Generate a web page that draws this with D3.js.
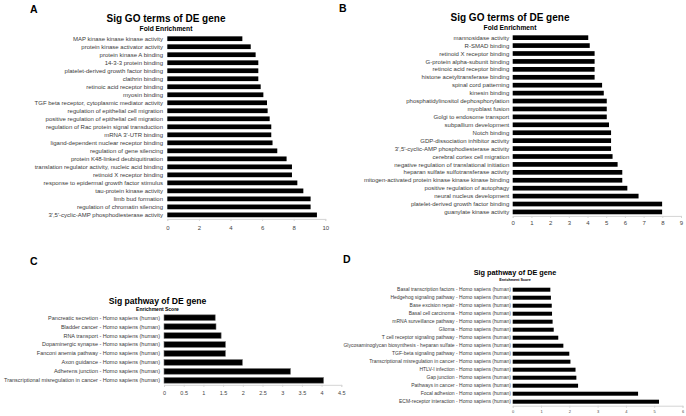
<!DOCTYPE html>
<html>
<head>
<meta charset="utf-8">
<script src="https://cdn.jsdelivr.net/npm/d3@7"></script>
<style>
  body { margin: 0; background: #fff; }
  svg { display: block; font-family: "Liberation Sans", Arial, sans-serif; }
</style>
</head>
<body>
<svg id="chart" width="686" height="416"></svg>
<script>
// Panel A - GO terms
const goATerms = [
  "MAP kinase kinase kinase activity", "protein kinase activator activity", "protein kinase A binding",
  "14-3-3 protein binding", "platelet-derived growth factor binding", "clathrin binding",
  "retinoic acid receptor binding", "myosin binding", "TGF beta receptor, cytoplasmic mediator activity",
  "regulation of epithelial cell migration", "positive regulation of epithelial cell migration",
  "regulation of Rac protein signal transduction", "mRNA 3'-UTR binding",
  "ligand-dependent nuclear receptor binding", "regulation of gene silencing",
  "protein K48-linked deubiquitination", "translation regulator activity, nucleic acid binding",
  "retinoid X receptor binding", "response to epidermal growth factor stimulus",
  "tau-protein kinase activity", "limb bud formation", "regulation of chromatin silencing",
  "3',5'-cyclic-AMP phosphodiesterase activity"
];
const goAValues = [4.75, 5.28, 5.59, 5.76, 5.76, 5.76, 5.91, 6.08, 6.31, 6.35, 6.48, 6.58, 6.58,
  6.66, 6.96, 7.55, 7.89, 7.89, 8.23, 8.61, 9.07, 9.07, 9.47];
const goATicks = [0, 2, 4, 6, 8, 10];

// Panel B - GO terms
const goBTerms = [
  "mannosidase activity", "R-SMAD binding", "retinoid X receptor binding",
  "G-protein alpha-subunit binding", "retinoic acid receptor binding", "histone acetyltransferase binding",
  "spinal cord patterning", "kinesin binding", "phosphatidylinositol dephosphorylation",
  "myoblast fusion", "Golgi to endosome transport", "subpallium development", "Notch binding",
  "GDP-dissociation inhibitor activity", "3',5'-cyclic-AMP phosphodiesterase activity",
  "cerebral cortex cell migration", "negative regulation of translational initiation",
  "heparan sulfate sulfotransferase activity", "mitogen-activated protein kinase kinase kinase binding",
  "positive regulation of autophagy", "neural nucleus development",
  "platelet-derived growth factor binding", "guanylate kinase activity"
];
const goBValues = [4.04, 4.12, 4.38, 4.38, 4.38, 4.38, 4.78, 4.87, 5.03, 5.03, 5.03, 5.15, 5.26,
  5.26, 5.26, 5.34, 5.61, 5.86, 5.86, 6.13, 6.73, 7.99, 7.99];
const goBTicks = [0, 1, 2, 3, 4, 5, 6, 7, 8, 9];

// Panel C - pathways
const pathCTerms = [
  "Pancreatic secretion - Homo sapiens (human)", "Bladder cancer - Homo sapiens (human)",
  "RNA transport - Homo sapiens (human)", "Dopaminergic synapse - Homo sapiens (human)",
  "Fanconi anemia pathway - Homo sapiens (human)", "Axon guidance - Homo sapiens (human)",
  "Adherens junction - Homo sapiens (human)",
  "Transcriptional misregulation in cancer - Homo sapiens (human)"
];
const pathCValues = [1.30, 1.32, 1.45, 1.56, 1.56, 1.99, 3.21, 4.05];
const pathCTicks = [0, 0.5, 1, 1.5, 2, 2.5, 3, 3.5, 4, 4.5];

// Panel D - pathways
const pathDTerms = [
  "Basal transcription factors - Homo sapiens (human)", "Hedgehog signaling pathway - Homo sapiens (human)",
  "Base excision repair - Homo sapiens (human)", "Basal cell carcinoma - Homo sapiens (human)",
  "mRNA surveillance pathway - Homo sapiens (human)", "Glioma - Homo sapiens (human)",
  "T cell receptor signaling pathway - Homo sapiens (human)",
  "Glycosaminoglycan biosynthesis - heparan sulfate - Homo sapiens (human)",
  "TGF-beta signaling pathway - Homo sapiens (human)",
  "Transcriptional misregulation in cancer - Homo sapiens (human)",
  "HTLV-I infection - Homo sapiens (human)", "Gap junction - Homo sapiens (human)",
  "Pathways in cancer - Homo sapiens (human)", "Focal adhesion - Homo sapiens (human)",
  "ECM-receptor interaction - Homo sapiens (human)"
];
const pathDValues = [1.33, 1.35, 1.38, 1.39, 1.41, 1.45, 1.61, 1.79, 2.00, 2.04, 2.22, 2.25, 2.31, 4.43, 5.17];
const pathDTicks = [0, 1, 2, 3, 4, 5, 6];

const svg = d3.select('#chart');
svg.append('rect').attr('width', 686).attr('height', 416).attr('fill', '#fff');

// Draws one horizontal bar panel
function drawPanel(p) {
    const g = svg.append('g');
    const x = d3.scaleLinear().domain(p.domain).range(p.xRange);
    const y = d3.scaleBand().domain(p.terms).range(p.yRange)
        .paddingInner(p.pad).paddingOuter(p.pad / 2);

    // panel letter
    g.append('text').attr('x', p.letter[1]).attr('y', p.letter[2])
        .attr('font-size', '10.5px').attr('font-weight', 'bold').text(p.letter[0]);

    // titles
    g.append('text').attr('x', p.titleX).attr('y', p.titleY).attr('text-anchor', 'middle')
        .attr('font-size', p.titleSize + 'px').attr('font-weight', 'bold').text(p.title);
    g.append('text').attr('x', p.titleX).attr('y', p.subY).attr('text-anchor', 'middle')
        .attr('font-size', p.subSize + 'px').attr('font-weight', 'bold').text(p.sub);

    // bottom axis
    const axis = g.append('g').attr('transform', `translate(0,${p.yRange[1]})`)
        .call(d3.axisBottom(x).tickValues(p.ticks).tickSize(2).tickFormat(d3.format('')));
    axis.select('.domain').attr('stroke', '#d4d4d4');
    axis.selectAll('.tick line').attr('stroke', '#d4d4d4');
    axis.selectAll('.tick text').attr('fill', '#444').attr('font-size', p.tickSize + 'px')
        .attr('font-family', null).attr('dy', null).attr('y', p.tickDy);

    // bars
    g.selectAll('.bar').data(p.values).enter().append('rect')
        .attr('class', 'bar')
        .attr('x', x(0))
        .attr('y', (d, i) => y(p.terms[i]))
        .attr('width', d => x(d) - x(0))
        .attr('height', y.bandwidth())
        .attr('fill', '#000')
        .attr('stroke', p.outline ? '#777' : 'none')
        .attr('stroke-width', 0.6);

    // category labels
    g.selectAll('.lab').data(p.terms).enter().append('text')
        .attr('class', 'lab')
        .attr('x', p.labelX)
        .attr('y', d => y(d) + y.bandwidth() / 2)
        .attr('dy', '0.35em')
        .attr('text-anchor', 'end')
        .attr('font-size', p.labelSize + 'px')
        .attr('fill', '#3a3a3a')
        .text(d => d);
}

drawPanel({
    letter: ['A', 30, 12.5], title: 'Sig GO terms of DE gene', sub: 'Fold Enrichment',
    titleX: 166, titleY: 21.7, titleSize: 10, subY: 30.5, subSize: 6.7,
    terms: goATerms, values: goAValues, ticks: goATicks, domain: [0, 10],
    xRange: [167.3, 325.3], yRange: [34.7, 218.9], pad: 0.41,
    labelX: 163, labelSize: 6, tickSize: 6, tickDy: 11.5
});

drawPanel({
    letter: ['B', 339, 12], title: 'Sig GO terms of DE gene', sub: 'Fold Enrichment',
    titleX: 510, titleY: 21, titleSize: 10, subY: 29.5, subSize: 6.7,
    terms: goBTerms, values: goBValues, ticks: goBTicks, domain: [0, 9],
    xRange: [512.7, 681], yRange: [33.7, 215.9], pad: 0.41,
    labelX: 509.3, labelSize: 6, tickSize: 6, tickDy: 9.5
});

drawPanel({
    letter: ['C', 30, 265], title: 'Sig pathway of DE gene', sub: 'Enrichment Score',
    titleX: 157.5, titleY: 304, titleSize: 8.6, subY: 311, subSize: 5,
    terms: pathCTerms, values: pathCValues, ticks: pathCTicks, domain: [0, 4.5],
    xRange: [164, 341.3], yRange: [313.2, 384.8], pad: 0.36, outline: true,
    labelX: 160, labelSize: 5.5, tickSize: 5.5, tickDy: 10
});

drawPanel({
    letter: ['D', 343, 263], title: 'Sig pathway of DE gene', sub: 'Enrichment Score',
    titleX: 515, titleY: 275, titleSize: 7.3, subY: 280.5, subSize: 3.7,
    terms: pathDTerms, values: pathDValues, ticks: pathDTicks, domain: [0, 6],
    xRange: [512.7, 682.5], yRange: [285.7, 405.7], pad: 0.5,
    labelX: 511, labelSize: 5, tickSize: 4, tickDy: 7
});
</script>
</body>
</html>
